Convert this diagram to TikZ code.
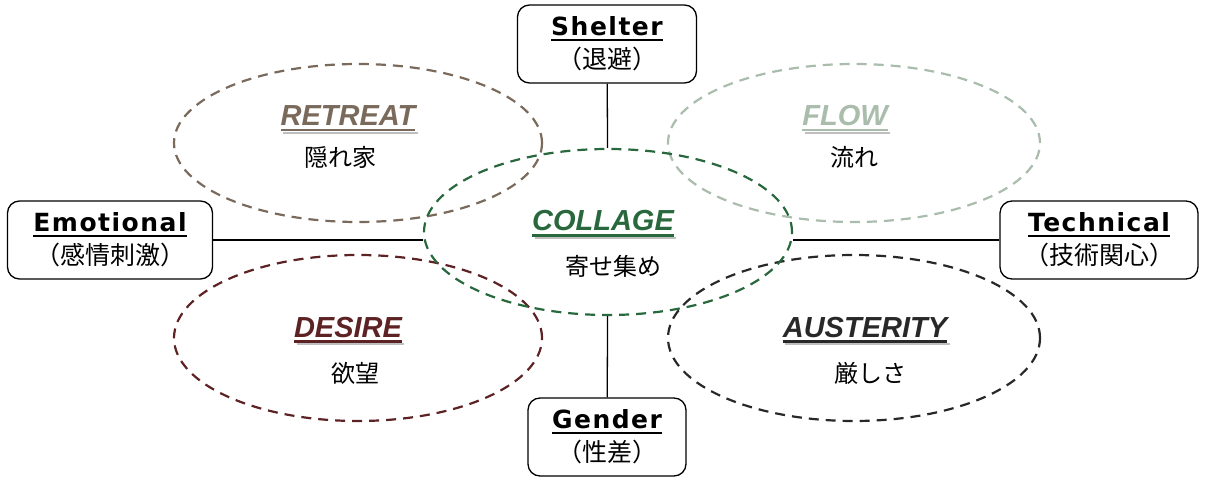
\documentclass[tikz,border=0pt]{standalone}
\usepackage{fontspec}
\setmainfont{Liberation Sans}
\newfontfamily\jpfont{Noto Sans CJK JP}
\newfontfamily\boxfont[LetterSpace=6]{DejaVu Sans Bold}
\usetikzlibrary{shapes.geometric}

\definecolor{retreatcol}{RGB}{122,106,92}
\definecolor{flowcol}{RGB}{170,188,172}
\definecolor{collagecol}{RGB}{40,104,60}
\definecolor{desirecol}{RGB}{92,34,36}
\definecolor{austercol}{RGB}{40,40,40}

% underlined word, and title with a soft underline shadow
\newcommand\ulbox[1]{\setbox0=\hbox{#1}\rlap{\rule[-5.5pt]{\wd0}{2pt}}\box0}
\newcommand\shadowtitle[2]{\setbox0=\hbox{#2}%
  \rlap{\kern2.5pt{\color{black!25}\rule[-8pt]{\wd0}{2.2pt}}}%
  {\color{#1}\rlap{\rule[-5.5pt]{\wd0}{2.2pt}}\box0}}

\tikzset{
  zone/.style={ellipse, draw=#1, dash pattern=on 10pt off 7pt, line width=2.2pt,
    minimum width=368, minimum height=160, inner sep=0pt},
  axis/.style={draw, rounded corners=12pt, line width=1.3pt, minimum height=78,
    align=center, inner sep=0pt, font=\fontsize{25}{33}\selectfont},
  zonetitle/.style={anchor=base, font=\fontsize{29}{34}\selectfont\bfseries\itshape},
  zonetext/.style={anchor=base, font=\jpfont\fontsize{24}{28}\selectfont},
  link/.style={line width=1.3pt},
}

\begin{document}
\begin{tikzpicture}[x=1pt, y=-1pt]
    \useasboundingbox (0,0) rectangle (1205,481);

    % Outer zones, then the centre one on top
    \node[zone=retreatcol, minimum height=158] (retreat) at (358,143) {};
    \node[zone=flowcol, minimum width=372, minimum height=158] (flow) at (854,143) {};
    \node[zone=desirecol, minimum height=166] (desire) at (358,338) {};
    \node[zone=austercol, minimum width=372, minimum height=166] (austerity) at (854,338) {};
    \node[zone=collagecol, minimum height=166] (collage) at (608,232) {};

    % Zone titles and Japanese words
    \node[zonetitle] (retreat-t) at (348,126) {\shadowtitle{retreatcol}{RETREAT}};
    \node[zonetext] (retreat-j) at (340,167) {隠れ家};
    \node[zonetitle] (flow-t) at (845,126) {\shadowtitle{flowcol}{FLOW}};
    \node[zonetext] (flow-j) at (854,167) {流れ};
    \node[zonetitle] (collage-t) at (603,231) {\shadowtitle{collagecol}{COLLAGE}};
    \node[zonetext] (collage-j) at (613,276) {寄せ集め};
    \node[zonetitle] (desire-t) at (348,337) {\shadowtitle{desirecol}{DESIRE}};
    \node[zonetext] (desire-j) at (355,382) {欲望};
    \node[zonetitle] (austerity-t) at (865,337) {\shadowtitle{austercol}{AUSTERITY}};
    \node[zonetext] (austerity-j) at (870,382) {厳しさ};

    % Axis boxes
    \node[axis, minimum width=179] (shelter) at (607,44)
        {{\boxfont\ulbox{Shelter}}\\{\jpfont （退避）}};
    \node[axis, minimum width=205] (emotional) at (110,240)
        {{\boxfont\ulbox{Emotional}}\\{\jpfont （感情刺激）}};
    \node[axis, minimum width=198] (technical) at (1099,240)
        {{\boxfont\ulbox{Technical}}\\{\jpfont （技術関心）}};
    \node[axis, minimum width=158] (gender) at (607,437)
        {{\boxfont\ulbox{Gender}}\\{\jpfont （性差）}};

    % Links to the centre
    \draw[link] (shelter) -- (collage);
    \draw[link] (gender) -- (collage);
    \draw[link] (emotional) -- (emotional -| collage.west);
    \draw[link] (technical) -- (technical -| collage.east);
\end{tikzpicture}
\end{document}
